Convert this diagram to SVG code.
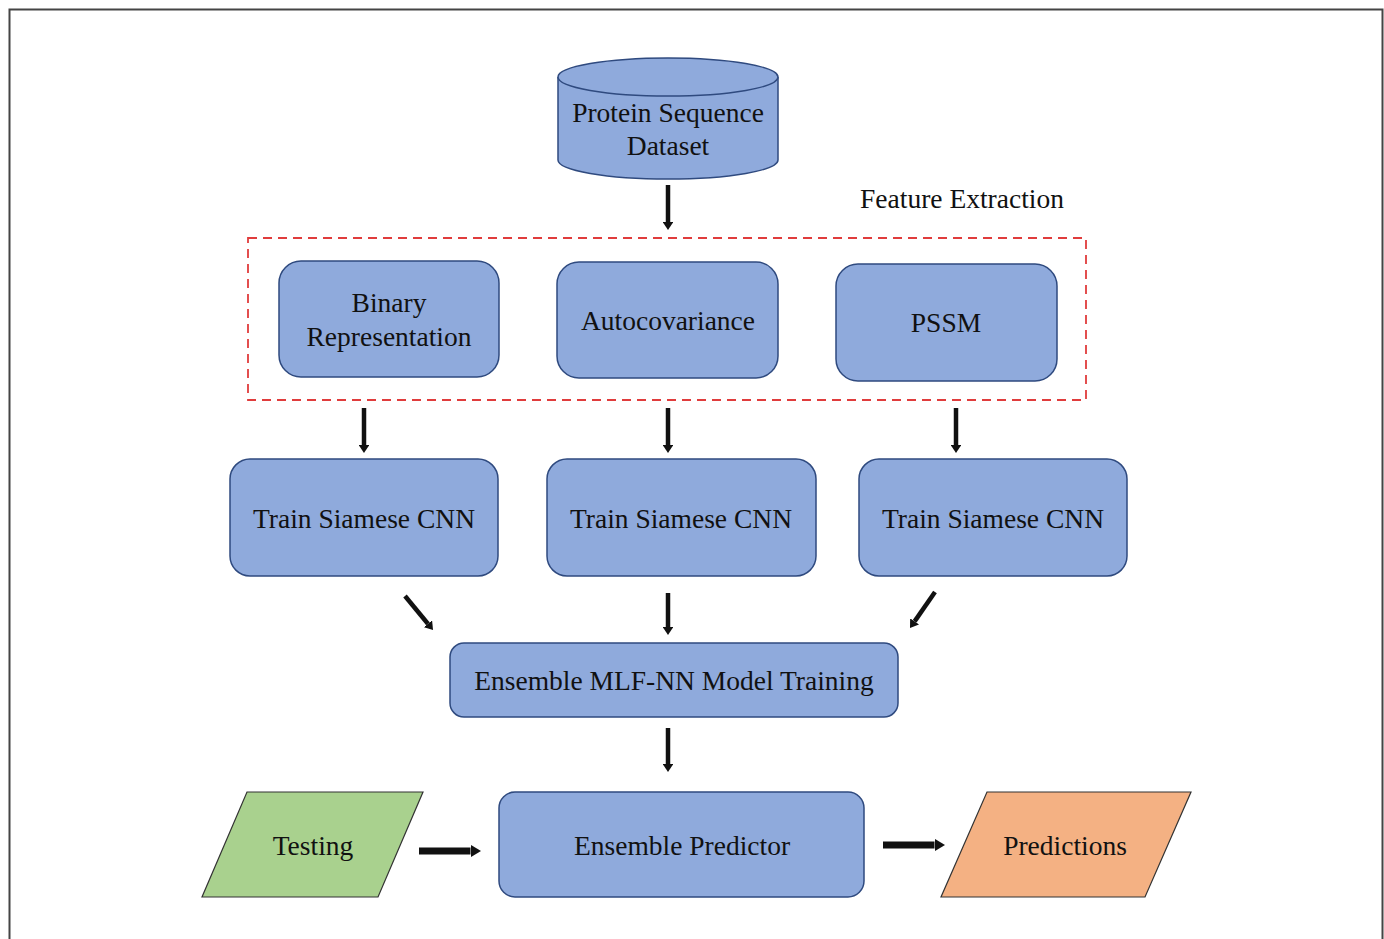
<svg xmlns="http://www.w3.org/2000/svg" width="1384" height="939" viewBox="0 0 1384 939">
<style>
.box{fill:#8faadc;stroke:#2f4a7f;stroke-width:1.5}
.t{font-family:"Liberation Serif","Times New Roman",serif;font-size:27.5px;fill:#111;text-anchor:middle}
.c line{stroke:#111;stroke-width:4.5;marker-end:url(#ah)}
.c line.h{stroke-width:7;marker-end:url(#ahh)}
</style>
<defs>
<marker id="ah" markerUnits="strokeWidth" markerWidth="2.4" markerHeight="2.4" viewBox="0 0 2.4 2.4" refX="0" refY="1.2" orient="auto">
<path d="M0,0 L1.8,1.2 L0,2.4 Z" fill="#111"/>
</marker>
<marker id="ahh" markerUnits="strokeWidth" markerWidth="2" markerHeight="2" viewBox="0 0 2 2" refX="0" refY="1" orient="auto">
<path d="M0,0.1 L1.5,1 L0,1.9 Z" fill="#111"/>
</marker>
</defs>
<rect x="0" y="0" width="1384" height="939" fill="#fff"/>
<path d="M9.5,945 V9.5 H1382.5 V945" fill="none" stroke="#444" stroke-width="2"/>

<g id="dataset">
<path class="box" d="M558,77 V160 A110,19 0 0 0 778,160 V77"/>
<ellipse class="box" cx="668" cy="77" rx="110" ry="19"/>
<text class="t" x="668" y="122">Protein Sequence</text>
<text class="t" x="668" y="155">Dataset</text>
</g>

<g id="feature-extraction">
<rect x="248" y="238" width="838" height="162" fill="none" stroke="#e03c3c" stroke-width="1.8" stroke-dasharray="9,6"/>
<text class="t" x="962" y="208">Feature Extraction</text>
</g>

<g id="binary">
<rect class="box" x="279" y="261" width="220" height="116" rx="22"/>
<text class="t" x="389" y="312">Binary</text>
<text class="t" x="389" y="346">Representation</text>
</g>
<g id="autocov">
<rect class="box" x="557" y="262" width="221" height="116" rx="22"/>
<text class="t" x="668" y="330">Autocovariance</text>
</g>
<g id="pssm">
<rect class="box" x="836" y="264" width="221" height="117" rx="22"/>
<text class="t" x="946" y="332">PSSM</text>
</g>

<g id="cnn1">
<rect class="box" x="230" y="459" width="268" height="117" rx="20"/>
<text class="t" x="364" y="528">Train Siamese CNN</text>
</g>
<g id="cnn2">
<rect class="box" x="547" y="459" width="269" height="117" rx="20"/>
<text class="t" x="681" y="528">Train Siamese CNN</text>
</g>
<g id="cnn3">
<rect class="box" x="859" y="459" width="268" height="117" rx="20"/>
<text class="t" x="993" y="528">Train Siamese CNN</text>
</g>

<g id="ensemble-training">
<rect class="box" x="450" y="643" width="448" height="74" rx="14"/>
<text class="t" x="674" y="690">Ensemble MLF-NN Model Training</text>
</g>

<g id="ensemble-predictor">
<rect class="box" x="499" y="792" width="365" height="105" rx="16"/>
<text class="t" x="682" y="855">Ensemble Predictor</text>
</g>

<g id="testing">
<polygon points="247,792 423,792 378,897 202,897" fill="#a9d18e" stroke="#333" stroke-width="1.2"/>
<text class="t" x="313" y="855">Testing</text>
</g>

<g id="predictions">
<polygon points="987,792 1191,792 1145,897 941,897" fill="#f4b183" stroke="#333" stroke-width="1.2"/>
<text class="t" x="1065" y="855">Predictions</text>
</g>

<g class="c" id="connectors">
<line x1="668" y1="185" x2="668" y2="222"/>
<line x1="364" y1="408" x2="364" y2="445"/>
<line x1="668" y1="408" x2="668" y2="445"/>
<line x1="956" y1="408" x2="956" y2="445"/>
<line x1="405" y1="596" x2="427.9" y2="623.8"/>
<line x1="668" y1="593" x2="668" y2="627"/>
<line x1="935" y1="592" x2="914.6" y2="621.4"/>
<line x1="668" y1="728" x2="668" y2="764"/>
<line class="h" x1="419" y1="851" x2="470.5" y2="851"/>
<line class="h" x1="883" y1="845" x2="934.5" y2="845"/>
</g>
</svg>
